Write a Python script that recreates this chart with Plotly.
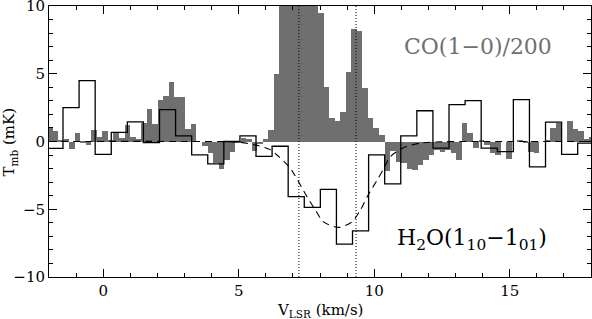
import numpy as np
import plotly.graph_objects as go

# ---------------- data ----------------
# CO(1-0)/200 spectrum (grey histogram): channel centres start + k*step
co_start = -1.968
co_step = 0.2041
co_vals = [1.06, 0.74, 0.1, 0.15, -0.57, 0.62, -0.1, -0.25, 0.86, 0.3,
           0.8, 0.05, 0.6, 0.25, 1.2, 0.3, 0.2, 1.4, 2.4, 1.3,
           3.1, 3.35, 4.4, 3.3, 3.3, 0.9, 1.3, 0.0, -0.3, -0.86,
           -1.6, -2.0, -1.36, -0.74, -0.1, 0.25, 0.2, -0.7, -0.2, 0.2,
           0.86, 5.0, 12.0, 16.0, 19.0, 18.0, 15.0, 13.0, 11.0, 9.5,
           4.0, 1.73, 1.48, 2.15, 5.1, 8.3, 8.15, 3.95, 1.73, 1.0,
           0.5, -2.2, -0.7, -1.5, -1.6, -2.0, -2.1, -1.7, -1.35, -1.0,
           -0.6, -0.75, -0.6, -0.86, -1.35, 1.36, 0.6, -0.5, 0.1, -0.25,
           -0.86, -1.0, 0.0, -1.3, 0.0, 0.05, -0.1, -0.75, -0.86, 0.0,
           0.1, 1.0, 1.36, 0.0, 1.5, 0.9, 0.75, 0.2, 0.3]

# H2O(1_10-1_01) spectrum (black histogram)
h2o_start = -1.78
h2o_step = 0.5935
h2o_vals = [-0.5, 2.5, 4.5, -0.95, 0.67, 1.45, -0.08, 2.35, 0.42, -0.98,
            -1.65, 0.0, 0.42, -1.1, -0.35, -4.07, -4.86, -3.53, -7.58, -6.59,
            -0.99, -3.13, 0.42, 2.27, -0.49, 2.72, 3.01, -0.49, -0.74, 3.09,
            -1.88, 1.43, -0.95, -0.12]

# Gaussian fit (dashed)
fit_v = [-2.0, 3.0, 5.0, 5.6, 6.16, 6.47, 6.90, 7.52, 7.83, 8.13, 8.69,
         9.18, 9.49, 9.74, 10.11, 10.36, 10.60, 11.1, 11.7, 12.5, 14.0, 18.0]
fit_t = [0.0, 0.0, -0.05, -0.25, -0.6, -1.1, -1.97, -4.07, -5.06, -5.93, -6.34,
         -5.93, -5.06, -4.07, -2.84, -1.97, -1.11, -0.45, -0.12, -0.02, 0.0, 0.0]

# dotted markers
vline_v = [7.22, 9.33]

x_range = [-2, 18]
y_range = [-10, 10]

# ---------------- build ----------------
co_x = co_start + co_step * np.arange(len(co_vals))
h_cent = h2o_start + h2o_step * np.arange(len(h2o_vals))
h_edges = np.concatenate([h_cent - h2o_step / 2, [h_cent[-1] + h2o_step / 2]])
h_y = list(h2o_vals) + [h2o_vals[-1]]

GREY = "#6f6f6f"
FONT = "DejaVu Serif"

fig = go.Figure()
fig.add_trace(go.Bar(x=co_x, y=co_vals, width=co_step, marker_color=GREY,
                     marker_line_width=0, showlegend=False))
fig.add_trace(go.Scatter(x=fit_v, y=fit_t, mode="lines",
                         line=dict(color="black", width=1.1, dash="7px,5px", shape="spline", smoothing=0.8),
                         showlegend=False))
fig.add_trace(go.Scatter(x=h_edges, y=h_y, mode="lines",
                         line=dict(color="black", width=1.3, shape="hv"), showlegend=False))
for v in vline_v:
    fig.add_trace(go.Scatter(x=[v, v], y=y_range, mode="lines",
                             line=dict(color="black", width=1, dash="1px,2px"), showlegend=False))

axis_common = dict(showline=True, linecolor="black", linewidth=1, mirror="allticks",
                   ticks="inside", ticklen=8, tickcolor="black", tickwidth=1,
                   showgrid=False, zeroline=False, automargin=False,
                   ticklabeloverflow="allow",
                   tickfont=dict(family=FONT, size=15, color="black"))
fig.update_xaxes(range=x_range, dtick=5, tick0=0,
                 minor=dict(dtick=1, ticks="inside", ticklen=4, tickcolor="black"),
                 **axis_common)
fig.update_yaxes(range=y_range, dtick=5, tick0=0,
                 minor=dict(dtick=1, ticks="inside", ticklen=4, tickcolor="black"),
                 **axis_common)

fig.add_annotation(text="CO(1−0)/200", x=13.84, y=7.04, xref="x", yref="y",
                   showarrow=False, font=dict(family=FONT, size=22, color="#707070"))
fig.add_annotation(text="H<sub>2</sub>O(1<sub>10</sub>−1<sub>01</sub>)", x=13.6, y=-7.2,
                   xref="x", yref="y", showarrow=False,
                   font=dict(family=FONT, size=22, color="black"))
fig.add_annotation(text="V<sub>LSR</sub> (km/s)", x=0.5, y=-0.122, xref="paper", yref="paper",
                   yanchor="middle", showarrow=False, font=dict(family=FONT, size=15, color="black"))
fig.add_annotation(text="T<sub>mb</sub> (mK)", x=-0.072, y=0.5, xref="paper", yref="paper",
                   xanchor="center", yanchor="middle", textangle=-90, showarrow=False,
                   font=dict(family=FONT, size=15, color="black"))

fig.update_layout(width=592, height=319, margin=dict(l=49, r=1, t=6, b=42),
                  paper_bgcolor="white", plot_bgcolor="white", bargap=0,
                  showlegend=False)

fig.write_html("out.html", config={"displayModeBar": False},
               post_script="document.body.style.margin='0';")
